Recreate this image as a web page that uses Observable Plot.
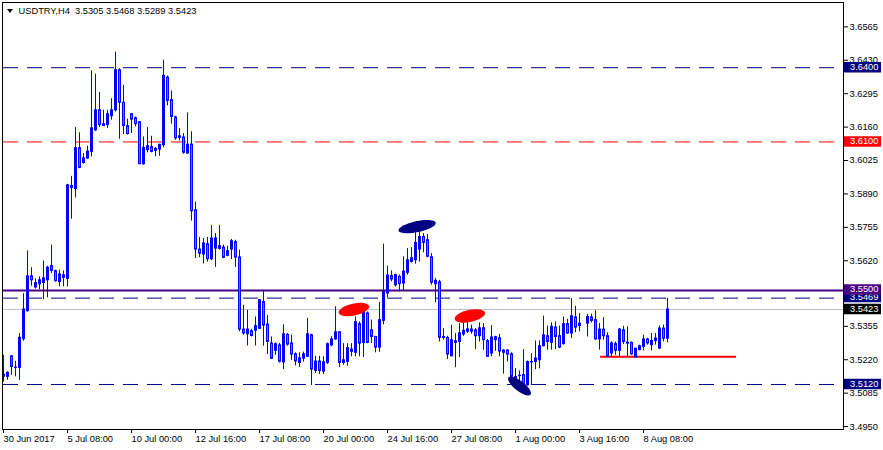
<!DOCTYPE html>
<html><head><meta charset="utf-8">
<script src="https://cdn.jsdelivr.net/npm/d3@7"></script>
<script src="https://cdn.jsdelivr.net/npm/@observablehq/plot@0.6"></script>
<style>
html,body{margin:0;padding:0;background:#fff;}
#chart{width:883px;height:450px;overflow:hidden;}
</style></head><body><div id="chart"></div>
<script>
const symbolName = "USDTRY";
const timeframe = "H4";

const opens = [3.5151,3.5151,3.5234,3.5187,3.5187,3.5303,3.5416,3.5557,3.5512,3.5525,
3.5530,3.5541,3.5598,3.5578,3.5534,3.5561,3.5547,3.5914,3.5910,3.6075,
3.6015,3.6033,3.6060,3.6147,3.6228,3.6164,3.6168,3.6204,3.6228,3.6390,
3.6258,3.6164,3.6212,3.6196,3.6180,3.6010,3.6067,3.6079,3.6064,3.6069,
3.6087,3.6360,3.6269,3.6199,3.6116,3.6118,3.6053,3.6089,3.5824,3.5665,
3.5645,3.5687,3.5626,3.5669,3.5679,3.5673,3.5640,3.5665,3.5695,3.5633,
3.5342,3.5323,3.5335,3.5337,3.5345,3.5453,3.5362,3.5286,3.5256,3.5278,
3.5209,3.5320,3.5286,3.5242,3.5207,3.5224,3.5232,3.5319,3.5175,3.5213,
3.5172,3.5207,3.5278,3.5302,3.5331,3.5207,3.5211,3.5261,3.5248,3.5364,
3.5288,3.5407,3.5339,3.5312,3.5269,3.5377,3.5488,3.5558,3.5521,3.5555,
3.5528,3.5571,3.5615,3.5622,3.5665,3.5716,3.5703,3.5634,3.5525,3.5533,
3.5308,3.5308,3.5234,3.5288,3.5292,3.5322,3.5333,3.5342,3.5339,3.5315,
3.5347,3.5295,3.5245,3.5299,3.5307,3.5257,3.5257,3.5242,3.5150,3.5154,
3.5158,3.5117,3.5209,3.5211,3.5218,3.5275,3.5315,3.5288,3.5350,3.5315,
3.5283,3.5364,3.5326,3.5391,3.5356,null,3.5366,3.5391,3.5380,3.5302,
3.5342,3.5315,3.5245,3.5283,3.5256,3.5339,3.5289,3.5288,3.5229,3.5259,
3.5272,3.5302,3.5279,3.5296,3.5265,3.5346,3.5305];

const highs = [3.5238,3.5171,3.5237,3.5214,3.5326,3.5487,3.5660,3.5592,3.5547,3.5555,
3.5619,3.5598,3.5683,3.5582,3.5582,3.5579,3.5929,3.5961,3.6158,3.6137,
3.6053,3.6083,3.6387,3.6374,3.6300,3.6228,3.6228,3.6275,3.6463,3.6396,
3.6329,3.6192,3.6212,3.6201,3.6182,3.6120,3.6158,3.6123,3.6077,3.6089,
3.6430,3.6366,3.6306,3.6204,3.6154,3.6134,3.6217,3.6141,3.5857,3.5714,
3.5710,3.5714,3.5762,3.5730,3.5762,3.5683,3.5679,3.5706,3.5703,3.5663,
3.5440,3.5420,3.5343,3.5393,3.5463,3.5501,3.5399,3.5312,3.5288,3.5286,
3.5361,3.5326,3.5319,3.5248,3.5248,3.5251,3.5387,3.5323,3.5234,3.5234,
3.5232,3.5288,3.5313,3.5434,3.5331,3.5285,3.5285,3.5285,3.5393,3.5373,
3.5420,3.5413,3.5380,3.5315,3.5452,3.5687,3.5598,3.5579,3.5566,3.5562,
3.5636,3.5669,3.5673,3.5757,3.5765,3.5730,3.5726,3.5649,3.5548,3.5541,
3.5346,3.5315,3.5359,3.5326,3.5366,3.5413,3.5386,3.5360,3.5346,3.5369,
3.5366,3.5302,3.5358,3.5315,3.5322,3.5261,3.5261,3.5248,3.5185,3.5175,
3.5261,3.5215,3.5245,3.5296,3.5296,3.5396,3.5356,3.5369,3.5373,3.5356,
3.5393,3.5383,3.5467,3.5436,3.5407,null,3.5404,3.5404,3.5418,3.5366,
3.5390,3.5329,3.5292,3.5292,3.5346,3.5355,3.5353,3.5292,3.5265,3.5279,
3.5319,3.5306,3.5326,3.5326,3.5356,3.5360,3.5468];

const lows = [3.5130,3.5137,3.5157,3.5151,3.5137,3.5295,3.5413,3.5517,3.5506,3.5503,
3.5463,3.5470,3.5568,3.5533,3.5514,3.5514,3.5514,3.5788,3.5874,3.5992,
3.6010,3.6029,3.6040,3.6142,3.6158,3.6164,3.6155,3.6188,3.6221,3.6111,
3.6130,3.6128,3.6134,3.6161,3.6010,3.6006,3.6056,3.6056,3.6040,3.6042,
3.6077,3.6246,3.6172,3.6107,3.6104,3.6050,3.6050,3.5780,3.5629,3.5633,
3.5607,3.5615,3.5620,3.5593,3.5663,3.5628,3.5636,3.5625,3.5593,3.5333,
3.5319,3.5276,3.5312,3.5276,3.5342,3.5275,3.5241,3.5221,3.5238,3.5207,
3.5180,3.5275,3.5218,3.5195,3.5189,3.5210,3.5229,3.5116,3.5164,3.5160,
3.5160,3.5201,3.5272,3.5299,3.5188,3.5198,3.5194,3.5232,3.5232,3.5232,
3.5229,3.5285,3.5285,3.5248,3.5250,3.5361,3.5471,3.5535,3.5514,3.5494,
3.5498,3.5562,3.5611,3.5606,3.5615,3.5652,3.5632,3.5521,3.5450,3.5292,
3.5299,3.5221,3.5232,3.5188,3.5229,3.5315,3.5326,3.5323,3.5261,3.5292,
3.5258,3.5229,3.5232,3.5254,3.5232,3.5162,3.5211,3.5140,3.5105,3.5124,
3.5104,3.5113,3.5117,3.5180,3.5183,3.5272,3.5259,3.5259,3.5261,3.5265,
3.5279,3.5323,3.5306,3.5329,3.5333,null,3.5312,3.5369,3.5299,3.5259,
3.5299,3.5232,3.5232,3.5238,3.5232,3.5281,3.5232,3.5238,3.5229,3.5256,
3.5256,3.5279,3.5256,3.5279,3.5261,3.5292,3.5289];

const closes = [3.5160,3.5167,3.5191,3.5188,3.5309,3.5423,3.5557,3.5541,3.5530,3.5541,
3.5549,3.5592,3.5579,3.5538,3.5565,3.5551,3.5925,3.5922,3.6075,3.5995,
3.6034,3.6061,3.6155,3.6228,3.6168,3.6172,3.6212,3.6228,3.6390,3.6258,
3.6165,3.6132,3.6190,3.6172,3.6010,3.6076,3.6083,3.6060,3.6072,3.6089,
3.6367,3.6266,3.6201,3.6114,3.6123,3.6056,3.6089,3.5820,3.5665,3.5648,
3.5690,3.5626,3.5710,3.5710,3.5668,3.5632,3.5659,3.5699,3.5633,3.5342,
3.5326,3.5342,3.5316,3.5356,3.5461,3.5358,3.5292,3.5224,3.5283,3.5212,
3.5323,3.5281,3.5241,3.5213,3.5226,3.5242,3.5323,3.5180,3.5213,3.5175,
3.5210,3.5283,3.5302,3.5331,3.5207,3.5218,3.5267,3.5252,3.5372,3.5285,
3.5413,3.5288,3.5312,3.5269,3.5380,3.5493,3.5560,3.5544,3.5562,3.5526,
3.5576,3.5622,3.5630,3.5692,3.5716,3.5692,3.5636,3.5531,3.5539,3.5308,
3.5312,3.5241,3.5299,3.5295,3.5327,3.5337,3.5343,3.5333,3.5315,3.5347,
3.5299,3.5232,3.5310,3.5311,3.5253,3.5248,3.5241,3.5151,3.5135,3.5155,
3.5117,3.5211,3.5211,3.5225,3.5275,3.5319,3.5292,3.5353,3.5312,3.5269,
3.5364,3.5326,3.5396,3.5350,3.5366,null,3.5393,3.5377,3.5302,3.5342,
3.5315,3.5232,3.5286,3.5256,3.5342,3.5292,3.5285,3.5242,3.5265,3.5275,
3.5302,3.5286,3.5296,3.5306,3.5346,3.5305,3.5423];

const xTickIndex = [0,16,32,48,64,80,96,112,128,144,160];
const xTickLabels = ["30 Jun 2017","5 Jul 08:00","10 Jul 00:00","12 Jul 16:00","17 Jul 08:00",
  "20 Jul 00:00","24 Jul 16:00","27 Jul 08:00","1 Aug 00:00","3 Aug 16:00","8 Aug 08:00"];
const yTicks = [3.6565,3.6430,3.6295,3.6160,3.6025,3.5890,3.5755,3.5620,3.5355,3.5220,3.5085,3.4950];

const dashedLevels = [3.6400, 3.5469, 3.5120];
const redLevels = [3.6100];
const purpleLevels = [3.5500];
const bidLevels = [3.5423];
const supportLine = [{price: 3.5232, from: 149.25, to: 183.25}];
const blueMarksTop = [{i: 103.4, p: 3.5758}];
const blueMarksLow = [{i: 129.0, p: 3.5114}];
const redMarks = [{i: 87.6, p: 3.5423}, {i: 116.6, p: 3.5397}];
const boxLevels = [3.6400, 3.6100, 3.5120, 3.5469, 3.5500, 3.5423];

const NAVY = "#000080", RED = "#FF0000", PURPLE = "#4B0082", BLUE = "#0000FF", BEAR = "#FF4A1C";

const candles = d3.range(opens.length).filter(i => opens[i] != null)
  .map(i => ({i, o: opens[i], h: highs[i], l: lows[i], c: closes[i]}));
const bulls = candles.filter(d => d.c >= d.o);
const bears = candles.filter(d => d.c < d.o);
const last = candles[candles.length - 1];
const fmt = v => v.toFixed(4);
const title = `${symbolName},${timeframe}\u00a0\u00a0${fmt(last.o)} ${fmt(last.h)} ${fmt(last.l)} ${fmt(last.c)}`;

function ellipseSym(rx, ry, deg) {
  const a = deg * Math.PI / 180, cs = Math.cos(a), sn = Math.sin(a), k = 0.5523;
  const T = (x, y) => [x * cs - y * sn, x * sn + y * cs];
  return {draw(ctx) {
    ctx.moveTo(...T(rx, 0));
    ctx.bezierCurveTo(...T(rx, k * ry), ...T(k * rx, ry), ...T(0, ry));
    ctx.bezierCurveTo(...T(-k * rx, ry), ...T(-rx, k * ry), ...T(-rx, 0));
    ctx.bezierCurveTo(...T(-rx, -k * ry), ...T(-k * rx, -ry), ...T(0, -ry));
    ctx.bezierCurveTo(...T(k * rx, -ry), ...T(rx, -k * ry), ...T(rx, 0));
    ctx.closePath();
  }};
}
const boxSym = {draw(ctx) { ctx.moveTo(-18.5, -5.25); ctx.lineTo(18.5, -5.25); ctx.lineTo(18.5, 5.25); ctx.lineTo(-18.5, 5.25); ctx.closePath(); }};
const triSym = {draw(ctx) { ctx.moveTo(-3, -2); ctx.lineTo(3, -2); ctx.lineTo(0, 2); ctx.closePath(); }};

const boxColor = v => purpleLevels.includes(v) ? PURPLE : redLevels.includes(v) ? RED : bidLevels.includes(v) ? "#000000" : NAVY;
const boxDy = v => purpleLevels.includes(v) || v === 3.5469 ? -1 : -0.5;

const boxMarks = boxLevels.flatMap(v => [
  Plot.dot([v], {y: d => d, frameAnchor: "right", dx: 19, dy: boxDy(v), symbol: boxSym, fill: boxColor(v), stroke: "none"}),
  Plot.text([v], {y: d => d, frameAnchor: "right", dx: 6.5, dy: boxDy(v), text: d => fmt(d), textAnchor: "start", fill: "white"})
]);

const plot = Plot.plot({
  width: 883,
  height: 450,
  marginLeft: 2,
  marginRight: 40,
  marginTop: 2,
  marginBottom: 21,
  style: {fontFamily: "'Liberation Sans', Arial, sans-serif", fontSize: "9.3px", background: "white", color: "black"},
  x: {type: "linear", domain: [-0.25, 210]},
  y: {type: "linear", domain: [3.493818, 3.666343]},
  marks: [
    Plot.ruleY(bidLevels, {stroke: "#C0C0C0", strokeWidth: 1}),
    Plot.ruleY(dashedLevels, {stroke: NAVY, strokeWidth: 1, strokeDasharray: "15,9", strokeDashoffset: -1}),
    Plot.ruleY(redLevels, {stroke: RED, strokeWidth: 1, strokeDasharray: "15,9", strokeDashoffset: -1}),
    Plot.ruleY(purpleLevels, {stroke: PURPLE, strokeWidth: 2}),
    Plot.ruleY(supportLine, {y: "price", x1: "from", x2: "to", stroke: RED, strokeWidth: 2}),
    Plot.ruleX(candles, {x: "i", y1: "l", y2: "h", stroke: BLUE, strokeWidth: 1}),
    Plot.rect(bulls, {x1: d => d.i - 0.25, x2: d => d.i + 0.5, y1: "o", y2: "c", fill: BLUE, insetTop: -0.5, insetBottom: -0.5}),
    Plot.rect(bears, {x1: d => d.i - 0.125, x2: d => d.i + 0.375, y1: "o", y2: "c", fill: BEAR, stroke: BLUE, strokeWidth: 1}),
    Plot.dot(blueMarksTop, {x: "i", y: "p", symbol: ellipseSym(19, 5.5, -12), fill: NAVY, stroke: "none"}),
    Plot.dot(blueMarksLow, {x: "i", y: "p", symbol: ellipseSym(14, 5, 38), fill: NAVY, stroke: "none"}),
    Plot.dot(redMarks, {x: "i", y: "p", symbol: ellipseSym(15.5, 6, -12), fill: RED, stroke: "none"}),
    Plot.frame({stroke: "black"}),
    Plot.axisY(yTicks, {anchor: "right", tickSize: 4, tickPadding: 2, tickFormat: d => d.toFixed(4), label: null}),
    Plot.axisX(xTickIndex, {anchor: "bottom", tickSize: 4, tickPadding: 2, textAnchor: "start",
      tickFormat: d => xTickLabels[xTickIndex.indexOf(d)], label: null}),
    ...boxMarks,
    Plot.dot([0], {frameAnchor: "top-left", dx: 7.5, dy: 8.5, symbol: triSym, fill: "black", stroke: "none"}),
    Plot.text([title], {frameAnchor: "top-left", dx: 16, dy: 8.5, text: d => d, textAnchor: "start", lineAnchor: "middle", fill: "black"})
  ]
});
document.getElementById("chart").appendChild(plot);
</script>
</body></html>
